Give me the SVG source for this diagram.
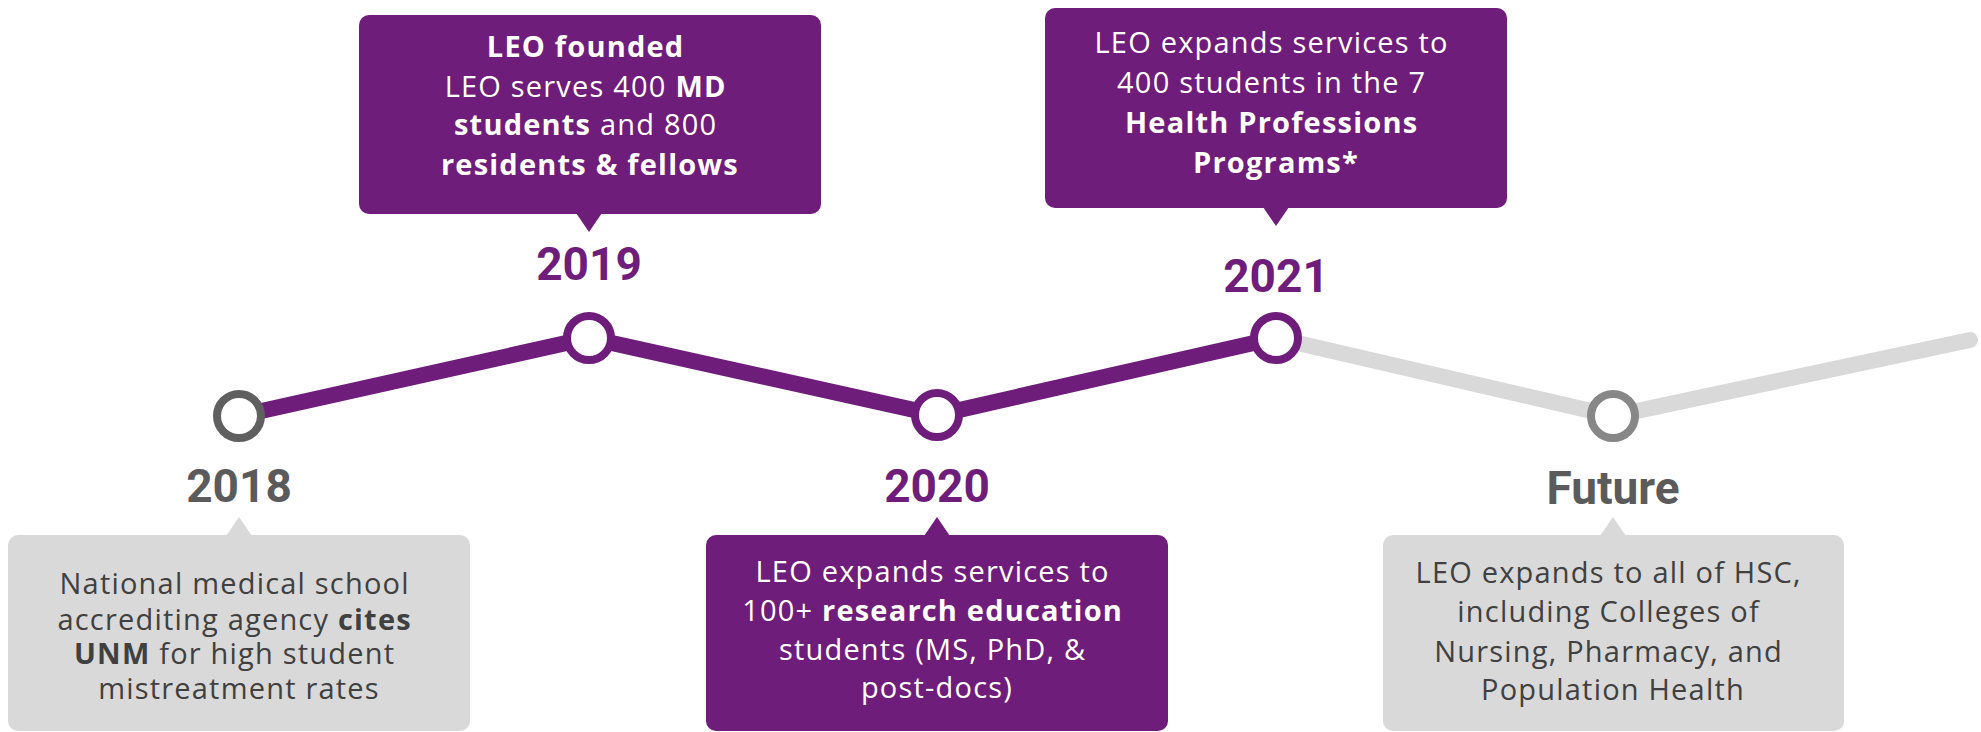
<svg xmlns="http://www.w3.org/2000/svg" width="1981" height="732" viewBox="0 0 1981 732">
  <style>
    .box-purple { fill: #6f1d7b; }
    .box-gray { fill: #d9d9d9; }
    .year { font-family: Roboto, "Liberation Sans", sans-serif; font-weight: 700; font-size: 46px; text-anchor: middle; }
    .year-purple { fill: #6f1d7b; }
    .year-gray { fill: #5b5b5b; }
    .body { font-family: "Open Sans", "Liberation Sans", sans-serif; font-size: 29px; letter-spacing: 1.2px; text-anchor: middle; }
    .body-light { fill: #ffffff; }
    .body-dark { fill: #404040; }
    .b { font-weight: 700; }
    .seg-purple { stroke: #6f1d7b; stroke-width: 16; stroke-linecap: round; fill: none; }
    .seg-gray { stroke: #d9d9d9; stroke-width: 16; stroke-linecap: round; fill: none; }
    .dot { fill: #ffffff; stroke-width: 8; }
  </style>

  <!-- timeline path -->
  <g id="connectors">
    <polyline class="seg-gray" points="1276,338 1613,416 1970,340"/>
    <polyline class="seg-purple" points="239,416 589,338 937,415 1276,338"/>
  </g>

  <!-- 2018 -->
  <g id="node-2018">
    <circle class="dot" cx="239" cy="416" r="22" stroke="#5f5f5f"/>
    <text class="year year-gray" x="239" y="502">2018</text>
    <rect class="box-gray" x="8" y="535" width="462" height="196" rx="10"/>
    <polygon class="box-gray" points="239,517 226,536 252,536"/>
    <text class="body body-dark">
      <tspan x="239" y="594">National medical school</tspan>
      <tspan x="239" y="630">accrediting agency <tspan class="b">cites</tspan></tspan>
      <tspan x="239" y="664"><tspan class="b">UNM</tspan> for high student</tspan>
      <tspan x="239" y="699">mistreatment rates</tspan>
    </text>
  </g>

  <!-- 2019 -->
  <g id="node-2019">
    <circle class="dot" cx="589" cy="338" r="22" stroke="#6f1d7b"/>
    <text class="year year-purple" x="589" y="280">2019</text>
    <rect class="box-purple" x="359" y="15" width="462" height="199" rx="10"/>
    <polygon class="box-purple" points="589,232 576,213 602,213"/>
    <text class="body body-light">
      <tspan x="590" y="57" class="b">LEO founded</tspan>
      <tspan x="590" y="97">LEO serves 400 <tspan class="b">MD</tspan></tspan>
      <tspan x="590" y="135"><tspan class="b">students</tspan> and 800</tspan>
      <tspan x="590" y="175" class="b">residents &amp; fellows</tspan>
    </text>
  </g>

  <!-- 2020 -->
  <g id="node-2020">
    <circle class="dot" cx="937" cy="415" r="22" stroke="#6f1d7b"/>
    <text class="year year-purple" x="937" y="502">2020</text>
    <rect class="box-purple" x="706" y="535" width="462" height="196" rx="10"/>
    <polygon class="box-purple" points="937,517 924,536 950,536"/>
    <text class="body body-light">
      <tspan x="937" y="582">LEO expands services to</tspan>
      <tspan x="937" y="621">100+ <tspan class="b">research education</tspan></tspan>
      <tspan x="937" y="660">students (MS, PhD, &amp;</tspan>
      <tspan x="937" y="698">post-docs)</tspan>
    </text>
  </g>

  <!-- 2021 -->
  <g id="node-2021">
    <circle class="dot" cx="1276" cy="338" r="22" stroke="#6f1d7b"/>
    <text class="year year-purple" x="1276" y="292">2021</text>
    <rect class="box-purple" x="1045" y="8" width="462" height="200" rx="10"/>
    <polygon class="box-purple" points="1276,226 1263,207 1289,207"/>
    <text class="body body-light">
      <tspan x="1276" y="53">LEO expands services to</tspan>
      <tspan x="1276" y="93">400 students in the 7</tspan>
      <tspan x="1276" y="133" class="b">Health Professions</tspan>
      <tspan x="1276" y="173" class="b">Programs*</tspan>
    </text>
  </g>

  <!-- Future -->
  <g id="node-future">
    <circle class="dot" cx="1613" cy="416" r="22" stroke="#878787"/>
    <text class="year year-gray" x="1613" y="504">Future</text>
    <rect class="box-gray" x="1383" y="535" width="461" height="196" rx="10"/>
    <polygon class="box-gray" points="1613,517 1600,536 1626,536"/>
    <text class="body body-dark">
      <tspan x="1613" y="583">LEO expands to all of HSC,</tspan>
      <tspan x="1613" y="622">including Colleges of</tspan>
      <tspan x="1613" y="662">Nursing, Pharmacy, and</tspan>
      <tspan x="1613" y="700">Population Health</tspan>
    </text>
  </g>
</svg>
